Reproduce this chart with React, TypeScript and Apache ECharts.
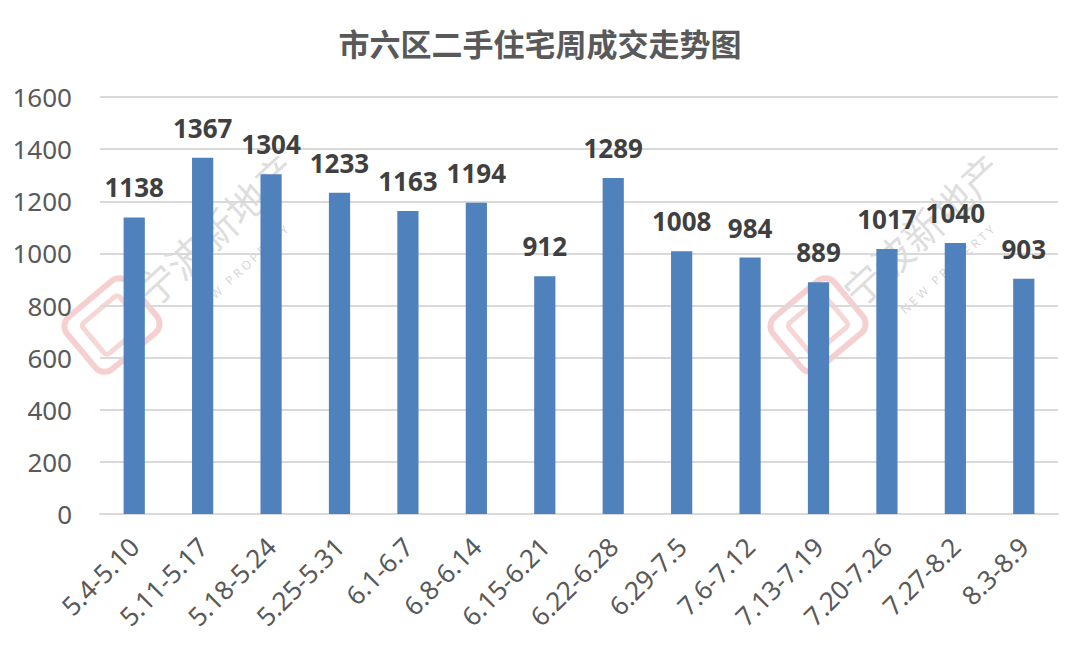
import React, { useEffect, useRef } from "react";
import * as echarts from "echarts";

const categories = ["5.4-5.10", "5.11-5.17", "5.18-5.24", "5.25-5.31", "6.1-6.7", "6.8-6.14", "6.15-6.21", "6.22-6.28", "6.29-7.5", "7.6-7.12", "7.13-7.19", "7.20-7.26", "7.27-8.2", "8.3-8.9"];
const values = [1138, 1367, 1304, 1233, 1163, 1194, 912, 1289, 1008, 984, 889, 1017, 1040, 903];
const titleText = "市六区二手住宅周成交走势图";

function watermark(cx: number, cy: number) {
  return [
    {
      type: "rect",
      x: cx,
      y: cy,
      rotation: Math.PI / 4.5,
      shape: { x: -40, y: -34, width: 80, height: 68, r: 12 },
      style: { fill: "none", stroke: "rgba(230,120,120,0.35)", lineWidth: 6 },
      z: 0,
    },
    {
      type: "rect",
      x: cx,
      y: cy,
      rotation: Math.PI / 4.5,
      shape: { x: -24, y: -20, width: 48, height: 40, r: 4 },
      style: { fill: "none", stroke: "rgba(230,120,120,0.3)", lineWidth: 5 },
      z: 0,
    },
    {
      type: "text",
      x: cx + 30,
      y: cy - 28,
      rotation: Math.PI / 4.2,
      style: { text: "宁波新地产", fontSize: 40, fill: "rgba(160,160,160,0.35)", fontFamily: "Noto Sans CJK SC", textVerticalAlign: "middle" },
      z: 0,
    },
    {
      type: "text",
      x: cx + 80,
      y: cy - 18,
      rotation: Math.PI / 4.2,
      style: { text: "N E W   P R O P E R T Y", fontSize: 12, fill: "rgba(160,160,160,0.45)", fontFamily: "Noto Sans" },
      z: 0,
    },
  ];
}

export default function App() {
  const ref = useRef<HTMLDivElement>(null);
  useEffect(() => {
    if (!ref.current) return;
    const chart = echarts.init(ref.current, undefined, { renderer: "svg" });
    chart.setOption({
      animation: false,
      backgroundColor: "#ffffff",
      title: {
        text: titleText,
        left: "center",
        top: 22,
        textStyle: { fontSize: 31, fontWeight: "bold", color: "#595959", fontFamily: "Noto Sans CJK SC" },
      },
      grid: { left: 100, right: 22, top: 97, bottom: 142, containLabel: false },
      xAxis: {
        type: "category",
        data: categories,
        axisLine: { lineStyle: { color: "#d9d9d9", width: 2 } },
        axisTick: { show: false },
        axisLabel: { rotate: 45, fontSize: 26, color: "#595959", margin: 28, fontFamily: "Noto Sans", interval: 0 },
      },
      yAxis: {
        type: "value",
        min: 0,
        max: 1600,
        interval: 200,
        axisLine: { show: false },
        axisTick: { show: false },
        splitLine: { lineStyle: { color: "#d9d9d9", width: 2 } },
        axisLabel: { fontSize: 26, color: "#595959", margin: 28, fontFamily: "Noto Sans", formatter: (v: number) => String(v) },
      },
      graphic: [...watermark(112, 325), ...watermark(818, 325)],
      series: [
        {
          type: "bar",
          data: values,
          barWidth: "31%",
          itemStyle: { color: "#4f81bd" },
          z: 2,
          label: {
            show: true,
            position: "top",
            distance: 17,
            fontSize: 26,
            fontWeight: "bold",
            color: "#404040",
            fontFamily: "Noto Sans",
          },
        },
      ],
    });
    return () => chart.dispose();
  }, []);
  return <div ref={ref} style={{ position: "absolute", left: 0, top: 0, width: 1080, height: 656 }} />;
}
